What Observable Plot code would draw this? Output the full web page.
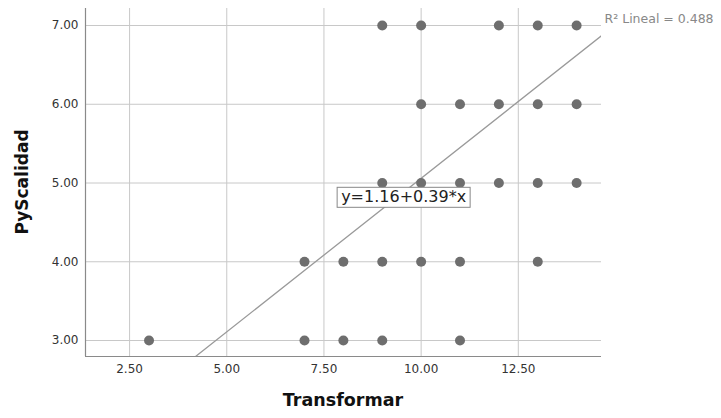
<!DOCTYPE html>
<html>
<head>
<meta charset="utf-8">
<script src="https://cdn.jsdelivr.net/npm/d3@7"></script>
<script src="https://cdn.jsdelivr.net/npm/@observablehq/plot@0.6"></script>
<style>
  html, body { margin: 0; padding: 0; background: #fff; }
  #chart svg { display: block; }
</style>
</head>
<body>
<div id="chart"></div>
<script>
// Data
const xs = [9, 10, 12, 13, 14,   10, 11, 12, 13, 14,   9, 10, 11, 12, 13, 14,   7, 8, 9, 10, 11, 13,   3, 7, 8, 9, 11];
const ys = [7, 7, 7, 7, 7,       6, 6, 6, 6, 6,        5, 5, 5, 5, 5, 5,        4, 4, 4, 4, 4, 4,      3, 3, 3, 3, 3];
const xTicks = [2.5, 5, 7.5, 10, 12.5];
const yTicks = [3, 4, 5, 6, 7];
const xDomain = [1.366, 14.64];
const yDomain = [2.797, 7.216];
const intercept = [1.16];
const slope = [0.39];
const r2Label = ["R\u00B2 Lineal = 0.488"];
const eqLabel = ["y=1.16+0.39*x"];
const eqPos = [9.55, 4.82];
const xLabel = "Transformar";
const yLabel = "PyScalidad";

const points = xs.map((x, i) => ({x, y: ys[i]}));
const fitLine = xDomain.map(x => ({x, y: intercept[0] + slope[0] * x}));
const fmt = d3.format(".2f");

const chart = Plot.plot({
  width: 721,
  height: 418,
  marginLeft: 85,
  marginRight: 120,
  marginTop: 8,
  marginBottom: 62,
  style: {fontFamily: "'DejaVu Sans', sans-serif", fontSize: "12px", color: "#333", background: "#fff"},
  x: {domain: xDomain, ticks: xTicks, tickFormat: fmt, tickSize: 0, tickPadding: 8, label: null},
  y: {domain: yDomain, ticks: yTicks, tickFormat: fmt, tickSize: 0, tickPadding: 8, label: null},
  marks: [
    Plot.gridX(xTicks, {stroke: "#c8c8c8", strokeOpacity: 1, strokeWidth: 1}),
    Plot.gridY(yTicks, {stroke: "#c8c8c8", strokeOpacity: 1, strokeWidth: 1}),
    Plot.ruleX([xDomain[0]], {stroke: "#8a8a8a", strokeWidth: 1.2}),
    Plot.ruleY([yDomain[0]], {stroke: "#8a8a8a", strokeWidth: 1.2}),
    Plot.axisX({ticks: xTicks, tickFormat: fmt, tickSize: 0, tickPadding: 8, fill: "#333", label: null}),
    Plot.axisY({ticks: yTicks, tickFormat: fmt, tickSize: 0, tickPadding: 7, fill: "#333", label: null}),
    Plot.line(fitLine, {x: "x", y: "y", stroke: "#9a9a9a", strokeWidth: 1.3, clip: true}),
    Plot.dot(points, {x: "x", y: "y", r: 5, fill: "#6e6e6e", stroke: "none"}),
    Plot.text(r2Label, {x: xDomain[1], y: yDomain[1], text: d => d, textAnchor: "start", dx: 3, dy: 10, fill: "#888", fontSize: 12.5}),
    Plot.text(eqLabel, {x: eqPos[0], y: eqPos[1], text: d => d, textAnchor: "middle", fill: "#222", fontSize: 16, className: "eq-label"})
  ]
});

document.getElementById("chart").appendChild(chart);

// axis titles
const svg = d3.select(chart);
svg.append("text")
  .attr("x", 85 + (721 - 85 - 120) / 2).attr("y", 406)
  .attr("text-anchor", "middle")
  .style("font-family", "'DejaVu Sans', sans-serif").style("font-weight", "bold").style("font-size", "17.5px")
  .attr("fill", "#111").text(xLabel);
svg.append("text")
  .attr("transform", `translate(28, ${8 + 348 / 2}) rotate(-90)`)
  .attr("text-anchor", "middle")
  .style("font-family", "'DejaVu Sans', sans-serif").style("font-weight", "bold").style("font-size", "17px")
  .attr("fill", "#111").text(yLabel);

// box behind the equation label
const eqText = chart.querySelector(".eq-label text");
if (eqText) {
  const bb = eqText.getBBox();
  const g = eqText.parentNode;
  const rect = document.createElementNS("http://www.w3.org/2000/svg", "rect");
  rect.setAttribute("x", bb.x - 4);
  rect.setAttribute("y", bb.y);
  rect.setAttribute("width", bb.width + 8);
  rect.setAttribute("height", bb.height + 1);
  rect.setAttribute("fill", "#fff");
  rect.setAttribute("stroke", "#888");
  rect.setAttribute("stroke-width", "1");
  const tr = eqText.getAttribute("transform");
  if (tr) rect.setAttribute("transform", tr);
  g.insertBefore(rect, eqText);
}
</script>
</body>
</html>
